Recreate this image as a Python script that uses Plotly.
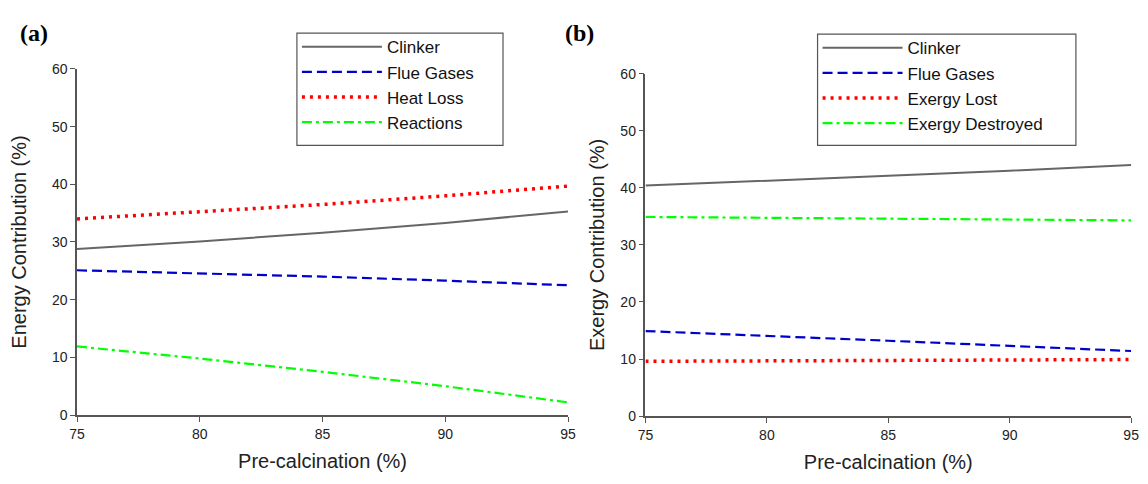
import plotly.graph_objects as go

x_vals = [75, 80, 85, 90, 95]

# Panel (a): energy contributions (%)
energy_clinker = [28.8, 30.1, 31.6, 33.3, 35.3]
energy_flue = [25.1, 24.6, 24.0, 23.3, 22.5]
energy_heat_loss = [34.0, 35.2, 36.5, 38.0, 39.7]
energy_reactions = [11.9, 9.8, 7.5, 5.0, 2.2]

# Panel (b): exergy contributions (%)
exergy_clinker = [40.4, 41.2, 42.1, 43.0, 44.0]
exergy_flue = [14.9, 14.1, 13.2, 12.3, 11.4]
exergy_lost = [9.6, 9.7, 9.8, 9.85, 9.9]
exergy_destroyed = [34.9, 34.8, 34.6, 34.45, 34.3]

y_ticks = [0, 10, 20, 30, 40, 50, 60]
x_ticks = [75, 80, 85, 90, 95]

GRAY = "#666666"
BLUE = "#0000CC"
RED = "#FF0000"
GREEN = "#00FF00"

fig = go.Figure()

def add(y, name, color, dash, width, xa, ya, legend):
    fig.add_trace(go.Scatter(x=x_vals, y=y, name=name, mode="lines",
                             line=dict(color=color, dash=dash, width=width),
                             xaxis=xa, yaxis=ya, legend=legend))

DASH = "10px,5px"
DOT = "3px,5px"
DASHDOT = "10px,4px,3px,4px"

add(energy_clinker, "Clinker", GRAY, "solid", 2, "x", "y", "legend")
add(energy_flue, "Flue Gases", BLUE, DASH, 2.2, "x", "y", "legend")
add(energy_heat_loss, "Heat Loss", RED, DOT, 3.5, "x", "y", "legend")
add(energy_reactions, "Reactions", GREEN, DASHDOT, 2.2, "x", "y", "legend")

add(exergy_clinker, "Clinker", GRAY, "solid", 2, "x2", "y2", "legend2")
add(exergy_flue, "Flue Gases", BLUE, DASH, 2.2, "x2", "y2", "legend2")
add(exergy_lost, "Exergy Lost", RED, DOT, 3.5, "x2", "y2", "legend2")
add(exergy_destroyed, "Exergy Destroyed", GREEN, DASHDOT, 2.2, "x2", "y2", "legend2")

axis_common = dict(showline=True, linecolor="#555555", linewidth=1.5,
                   ticks="outside", ticklen=5, tickcolor="#555555",
                   showgrid=False, zeroline=False,
                   tickfont=dict(family="Arial", size=14, color="#222222"),
                   title_font=dict(family="Arial", size=20, color="#222222"))

W, H = 1148, 484

legend_common = dict(xanchor="left", yanchor="top", borderwidth=0,
                     bgcolor="rgba(0,0,0,0)",
                     font=dict(family="Arial", size=17, color="#111111"),
                     tracegroupgap=0, itemwidth=80)

fig.update_layout(
    width=W, height=H,
    margin=dict(l=0, r=0, t=0, b=0),
    paper_bgcolor="white", plot_bgcolor="white",
    xaxis=dict(domain=[70 / W, 568 / W], range=[75, 95], tickvals=x_ticks,
               title=dict(text="Pre-calcination (%)", standoff=13), anchor="y", **axis_common),
    yaxis=dict(domain=[1 - 421 / H, 1 - 63 / H], range=[0, 60], tickvals=y_ticks,
               title=dict(text="Energy Contribution (%)", standoff=20), anchor="x", **axis_common),
    xaxis2=dict(domain=[646.5 / W, 1139 / W], range=[75, 95], tickvals=x_ticks,
                title=dict(text="Pre-calcination (%)", standoff=13), anchor="y2", **axis_common),
    yaxis2=dict(domain=[1 - 422 / H, 1 - 68 / H], range=[0, 60], tickvals=y_ticks,
                title=dict(text="Exergy Contribution (%)", standoff=10), anchor="x2", **axis_common),
    legend=dict(x=293 / W, y=1 - 22 / H, **legend_common),
    legend2=dict(x=821 / W, y=1 - 23 / H, **legend_common),
    shapes=[
        dict(type="rect", xref="paper", yref="paper",
             x0=293 / W, x1=502 / W, y0=1 - 142 / H, y1=1 - 26 / H,
             line=dict(color="#555555", width=1.2), fillcolor="white", layer="above"),
        dict(type="rect", xref="paper", yref="paper",
             x0=821 / W, x1=1083 / W, y0=1 - 142 / H, y1=1 - 27 / H,
             line=dict(color="#555555", width=1.2), fillcolor="white", layer="above"),
    ],
    annotations=[
        dict(text="<b>(a)</b>", x=10 / W, y=1 - 26 / H, xref="paper", yref="paper",
             xanchor="left", yanchor="middle", showarrow=False,
             font=dict(family="Liberation Serif", size=24, color="black")),
        dict(text="<b>(b)</b>", x=563 / W, y=1 - 26 / H, xref="paper", yref="paper",
             xanchor="left", yanchor="middle", showarrow=False,
             font=dict(family="Liberation Serif", size=24, color="black")),
    ],
)

fig.write_html("out.html", config={"displayModeBar": False},
               post_script="document.body.style.margin='0';document.body.style.overflow='hidden';")
